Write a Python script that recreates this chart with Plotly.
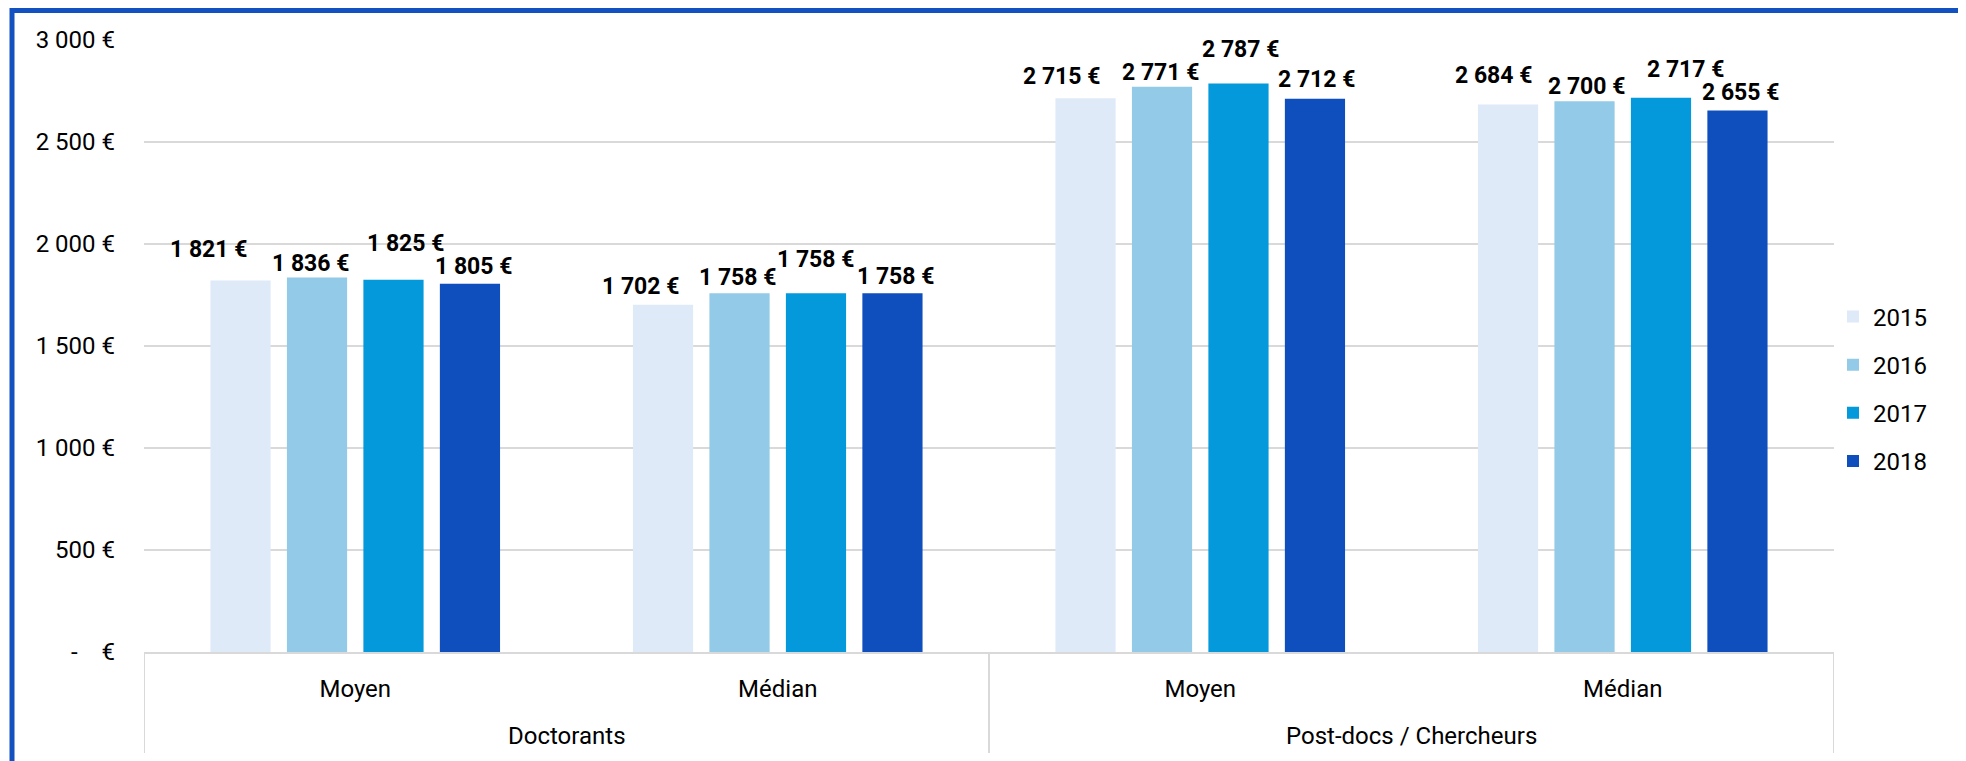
import plotly.graph_objects as go

# ---- data ----
groups = ["Doctorants", "Doctorants", "Post-docs / Chercheurs", "Post-docs / Chercheurs"]
measures = ["Moyen", "Médian", "Moyen", "Médian"]
years = ["2015", "2016", "2017", "2018"]
v2015 = [1821, 1702, 2715, 2684]
v2016 = [1836, 1758, 2771, 2700]
v2017 = [1825, 1758, 2787, 2717]
v2018 = [1805, 1758, 2712, 2655]
series = [v2015, v2016, v2017, v2018]
ytick_vals = [0, 500, 1000, 1500, 2000, 2500, 3000]
ytick_text = ["-\u00a0\u00a0\u00a0\u00a0€", "500 €", "1 000 €", "1 500 €", "2 000 €", "2 500 €", "3 000 €"]

# ---- style ----
colors = ["#DFEAF9", "#92CAE7", "#0399DB", "#0F4EBD"]
FONT = "Roboto"
FS = 24
FS_LABEL = 23
BARGAP = 0.276
# label pixel offsets (dx, dy up) per [category][year] to mimic staggered labels
label_dx = [[-32, -7, 12, 4], [-23, -2, 0, 3], [-24, -2, 2, 2], [-15, 2, 25, 3]]
label_dy = [[31, 14, 36, 17], [18, 16, 34, 17], [22, 14, 34, 19], [29, 15, 28, 18]]


def fmt(v):
    return f"{v:,}".replace(",", " ") + " €"


positions = list(range(len(measures)))

fig = go.Figure()
for i, (yr, vals) in enumerate(zip(years, series)):
    fig.add_trace(go.Bar(
        x=positions, y=vals, name=yr, marker_color=colors[i],
        marker_line_width=0, legendgroup=yr, hoverinfo="y+name",
    ))

# page geometry (html body adds an 8px offset)
OFF = 8
W, H = 1958, 753
L, R, T, B = 136, 132, 32, 109
pw, ph = W - L - R, H - T - B
plot_left_page = OFF + L
plot_bottom_page = OFF + T + ph


def px_x(p):
    return (p - plot_left_page) / pw


def px_y(p):
    return (plot_bottom_page - p) / ph


annotations = []
slot = (1 - BARGAP) / len(years)
for j in positions:
    for i, vals in enumerate(series):
        annotations.append(dict(
            x=j + (i - (len(years) - 1) / 2) * slot, y=vals[j], xref="x", yref="y",
            text="<b>" + fmt(vals[j]) + "</b>", showarrow=False,
            xanchor="center", yanchor="middle",
            xshift=label_dx[j][i], yshift=label_dy[j][i],
            font=dict(family=FONT, size=FS_LABEL, color="#000000"),
        ))

# outer group labels and dividers
group_names = list(dict.fromkeys(groups))
divider_color = "#D9D9D9"
shapes = []
bounds = [-0.5]
for g in group_names:
    idx = [k for k, gg in enumerate(groups) if gg == g]
    annotations.append(dict(
        x=sum(idx) / len(idx), y=0, xref="x", yref="paper", text=g, showarrow=False,
        xanchor="center", yanchor="middle", yshift=-84,
        font=dict(family=FONT, size=FS, color="#000000"),
    ))
    bounds.append(max(idx) + 0.5)
for bx in bounds:
    shapes.append(dict(type="line", xref="x", yref="paper", x0=bx, x1=bx,
                       y0=0, y1=px_y(753), line=dict(color=divider_color, width=2)))

frame = "#1351C1"
shapes += [
    dict(type="line", xref="paper", yref="paper", x0=px_x(12), x1=px_x(12),
         y0=px_y(8), y1=px_y(800), line=dict(color=frame, width=5)),
    dict(type="line", xref="paper", yref="paper", x0=px_x(10), x1=px_x(2000),
         y0=px_y(10), y1=px_y(10), line=dict(color=frame, width=6)),
]

fig.update_layout(
    width=W, height=H,
    margin=dict(l=L, r=R, t=T, b=B, autoexpand=False),
    paper_bgcolor="white", plot_bgcolor="white",
    barmode="group", bargap=BARGAP, bargroupgap=0.213,
    font=dict(family=FONT, size=FS, color="#000000"),
    annotations=annotations, shapes=shapes,
    legend=dict(x=px_x(1833), y=0.43, xanchor="left", yanchor="middle",
                font=dict(family=FONT, size=FS), tracegroupgap=14, itemwidth=30,
                bgcolor="rgba(0,0,0,0)"),
    showlegend=True,
)
fig.update_xaxes(
    type="linear", range=[-0.5, len(measures) - 0.5], showline=True, linecolor=divider_color,
    linewidth=2, showgrid=False, zeroline=False,
    tickvals=positions, ticktext=measures, ticks="",
    tickfont=dict(family=FONT, size=FS, color="#000000"), ticklabelstandoff=14,
)
fig.update_yaxes(
    range=[0, 3000], tickvals=ytick_vals, ticktext=ytick_text, showgrid=True,
    gridcolor="#D9D9D9", gridwidth=2, zeroline=False, showline=False, ticks="",
    tickfont=dict(family=FONT, size=FS, color="#000000"), ticklabelstandoff=28,
)

fig.write_html("out.html")
